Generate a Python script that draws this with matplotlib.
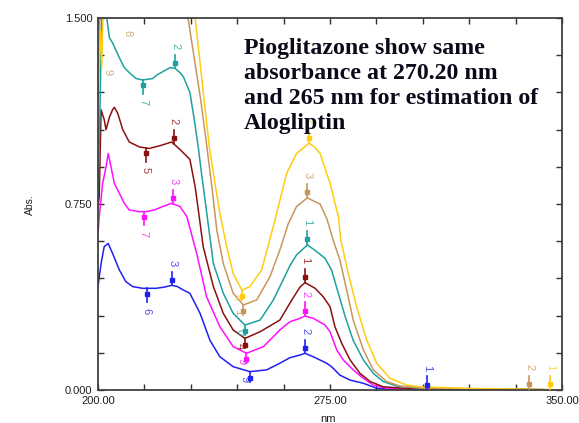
import numpy as np
import matplotlib
matplotlib.use("Agg")
import matplotlib.pyplot as plt

# spectra: wavelength (nm) / absorbance
blue_wl = [200.0, 201.0, 202.0, 203.3, 204.7, 206.9, 209.0, 211.2, 214.4, 218.8, 221.5, 223.8, 225.5,
           227.6, 229.7, 233.0, 236.2, 239.4, 243.7, 249.1, 254.5, 258.8, 262.0, 265.3, 266.9, 269.6,
           273.9, 275.5, 278.2, 281.5, 285.8, 290.1, 295.0, 300.0, 350.0]
blue_abs = [0.417, 0.51, 0.578, 0.591, 0.551, 0.484, 0.437, 0.417, 0.41, 0.41, 0.415, 0.422, 0.418,
            0.403, 0.39, 0.309, 0.20, 0.134, 0.094, 0.074, 0.081, 0.108, 0.13, 0.141, 0.148, 0.134,
            0.108, 0.094, 0.06, 0.04, 0.027, 0.007, 0.003, 0.0, 0.0]

magenta_wl = [200.0, 200.4, 201.5, 202.6, 203.3, 204.2, 205.3, 206.9, 208.5, 210.1, 213.4, 216.0, 218.2,
              221.0, 223.8, 226.5, 228.7, 231.9, 235.1, 239.4, 243.7, 248.0, 253.5, 258.8, 262.0, 265.3,
              266.9, 269.6, 273.4, 275.0, 277.2, 279.3, 282.5, 285.8, 289.0, 293.3, 300.0, 330.0, 350.0]
magenta_abs = [0.63, 0.699, 0.833, 0.90, 0.954, 0.90, 0.833, 0.793, 0.753, 0.726, 0.719, 0.72, 0.726,
               0.74, 0.753, 0.74, 0.70, 0.551, 0.376, 0.255, 0.175, 0.148, 0.175, 0.242, 0.275, 0.289,
               0.298, 0.289, 0.262, 0.235, 0.161, 0.121, 0.081, 0.047, 0.02, 0.007, 0.004, 0.002, 0.0]

maroon_wl = [200.0, 200.4, 201.0, 202.0, 202.6, 203.7, 204.7, 205.3, 206.4, 208.0, 210.1, 213.4, 216.6,
             220.0, 223.8, 226.5, 229.7, 231.4, 232.5, 234.0, 237.3, 240.5, 243.7, 247.5, 252.4, 258.8,
             262.5, 265.3, 266.9, 270.2, 272.8, 275.0, 276.6, 278.8, 281.5, 284.7, 288.0, 292.2, 300.0,
             335.0, 350.0]
maroon_abs = [0.74, 0.78, 1.13, 1.09, 1.05, 1.10, 1.13, 1.14, 1.115, 1.05, 1.00, 0.98, 0.974,
              0.985, 1.00, 0.97, 0.93, 0.82, 0.72, 0.578, 0.417, 0.309, 0.242, 0.208, 0.235, 0.282,
              0.36, 0.415, 0.433, 0.41, 0.376, 0.336, 0.255, 0.188, 0.121, 0.067, 0.034, 0.013, 0.006,
              0.003, 0.0]

teal_wl = [200.0, 200.6, 201.3, 202.6, 203.7, 204.7, 205.8, 206.9, 208.5, 210.1, 212.3, 214.4, 217.7,
           219.0, 223.3, 224.9, 226.5, 227.6, 229.7, 231.0, 232.4, 233.5, 234.6, 237.3, 240.5, 243.7,
           247.5, 252.4, 256.7, 258.8, 262.0, 264.2, 267.7, 269.6, 271.2, 273.4, 275.5, 277.7, 279.9,
           282.5, 285.8, 289.0, 292.2, 296.5, 305.0, 335.0, 350.0]
teal_abs = [0.78, 1.1, 1.6, 1.52, 1.42, 1.40, 1.37, 1.34, 1.30, 1.28, 1.256, 1.25, 1.256,
            1.27, 1.30, 1.297, 1.28, 1.263, 1.20, 1.10, 0.98, 0.87, 0.766, 0.51, 0.39, 0.309,
            0.262, 0.282, 0.363, 0.417, 0.50, 0.545, 0.585, 0.568, 0.553, 0.531, 0.484, 0.39, 0.296,
            0.20, 0.121, 0.067, 0.034, 0.016, 0.006, 0.003, 0.0]

tan_wl = [200.0, 200.7, 228.0, 229.1, 233.2, 235.0, 237.0, 238.4, 240.5, 243.7, 247.0, 251.3, 255.6,
          258.8, 261.5, 264.2, 267.7, 270.0, 271.8, 274.0, 276.0, 278.2, 280.4, 282.5, 285.8, 289.0,
          293.3, 297.6, 305.0, 335.0, 350.0]
tan_abs = [1.15, 1.6, 1.6, 1.5, 1.17, 1.0, 0.80, 0.645, 0.51, 0.39, 0.343, 0.363, 0.457,
           0.565, 0.67, 0.74, 0.775, 0.76, 0.75, 0.69, 0.605, 0.524, 0.403, 0.282, 0.161, 0.081,
           0.034, 0.016, 0.007, 0.004, 0.0]

gold_wl = [200.0, 200.8, 201.2, 201.8, 230.5, 231.4, 234.3, 236.0, 238.1, 239.4, 241.6, 243.7, 246.5,
           249.1, 252.9, 257.2, 261.0, 264.2, 268.2, 270.0, 271.8, 273.9, 275.0, 277.7, 278.5, 280.9,
           283.6, 286.9, 290.1, 294.4, 299.8, 304.1, 320.0, 335.0, 350.0]
gold_abs = [1.25, 1.45, 1.3, 1.6, 1.6, 1.5, 1.17, 0.98, 0.81, 0.712, 0.578, 0.47, 0.403,
            0.417, 0.484, 0.685, 0.874, 0.954, 0.995, 0.98, 0.954, 0.874, 0.835, 0.699, 0.605, 0.47,
            0.336, 0.2, 0.108, 0.047, 0.02, 0.013, 0.006, 0.004, 0.0]

names = ["blue", "magenta", "maroon", "teal", "tan", "gold"]
colors = {"blue": "#2020f0", "magenta": "#ff10ff", "maroon": "#8b1010", "teal": "#1fa0a0",
          "tan": "#c8965c", "gold": "#ffcc10"}
spectra = {"blue": (blue_wl, blue_abs), "magenta": (magenta_wl, magenta_abs),
           "maroon": (maroon_wl, maroon_abs), "teal": (teal_wl, teal_abs),
           "tan": (tan_wl, tan_abs), "gold": (gold_wl, gold_abs)}

# peak / valley pick labels: (curve, wavelength, label, +1 label above / -1 below)
picks = [
    ("teal", 224.9, "2", 1), ("teal", 214.6, "7", -1),
    ("maroon", 224.5, "2", 1), ("maroon", 215.5, "5", -1),
    ("magenta", 224.3, "3", 1), ("magenta", 214.8, "7", -1),
    ("blue", 224.0, "3", 1), ("blue", 215.8, "6", -1),
    ("gold", 268.2, "2", 1), ("tan", 267.7, "3", 1), ("teal", 267.7, "1", 1),
    ("maroon", 266.9, "1", 1), ("magenta", 266.9, "2", 1), ("blue", 266.9, "2", 1),
    ("blue", 306.4, "1", 1), ("tan", 339.4, "2", 1), ("gold", 346.1, "1", 1),
]
# valley picks near 248 nm, label sits beside the arrow
valley_picks = [("gold", 246.5, "4"), ("tan", 247.0, "1"), ("teal", 247.5, "0"),
                ("maroon", 247.5, "4"), ("magenta", 248.0, "9"), ("blue", 249.1, "9")]

fig = plt.figure(figsize=(5.79, 4.23), dpi=100)
ax = fig.add_axes([98 / 579, 1 - 390 / 423, 464 / 579, 372 / 423])

for n in names:
    wl, ab = spectra[n]
    ax.plot(wl, ab, color=colors[n], lw=1.1, zorder=2)

lab_kw = dict(alpha=0.8, fontsize=8, rotation=270, ha="center", va="center",
              family="Liberation Sans", zorder=3)

for n, w, lab, d in picks:
    wl, ab = spectra[n]
    y = float(np.interp(w, wl, ab))
    y_end = y + d * 0.055
    ax.plot([w, w], [y, y_end], color=colors[n], lw=1.2, zorder=3)
    ax.plot(w, y + d * 0.022, "s", color=colors[n], ms=3, zorder=3)
    ax.text(w, y_end + d * 0.035, lab, color=colors[n], **lab_kw)

for n, w, lab in valley_picks:
    wl, ab = spectra[n]
    y = float(np.interp(w, wl, ab))
    ax.plot([w, w], [y, y - 0.04], color=colors[n], lw=1.2, zorder=3)
    ax.plot(w, y - 0.025, "s", color=colors[n], ms=3, zorder=3)
    ax.text(w - 1.6, y - 0.03, lab, color=colors[n], **lab_kw)

# small labels at the far left
ax.text(209.5, 1.44, "8", color=colors["tan"], **lab_kw)
ax.text(203.2, 1.28, "9", color=colors["tan"], **lab_kw)

ax.set_xlim(200, 350)
ax.set_ylim(0, 1.5)
ax.set_xticks(np.arange(200, 351, 15), minor=True)
ax.set_xticks([200, 275, 350])
ax.set_xticklabels(["200.00", "275.00", "350.00"])
ax.set_yticks(np.arange(0, 1.51, 0.15), minor=True)
ax.set_yticks([0, 0.75, 1.5])
ax.set_yticklabels(["0.000", "0.750", "1.500"])
ax.tick_params(which="both", direction="in", top=True, right=True, length=4, width=1,
               color="#303030", labelsize=8, pad=4)
for lbl in ax.get_xticklabels() + ax.get_yticklabels():
    lbl.set_family("Liberation Sans")
    lbl.set_color("#202020")
for s in ax.spines.values():
    s.set_color("#404040")
    s.set_linewidth(1.3)

fig.text(30 / 579, 1 - 205 / 423, "Abs.", rotation=90, fontsize=7.5, ha="center",
         va="center", family="Liberation Sans", color="#202020")
fig.text(328 / 579, 1 - 414 / 423, "nm", fontsize=8, ha="center", va="top",
         family="Liberation Sans", color="#202020")

fig.text(244 / 579, 1 - 38 / 423,
         "Pioglitazone show same\nabsorbance at 270.20 nm\nand 265 nm for estimation of\nAlogliptin",
         fontsize=17.2, fontweight="bold", family="Liberation Serif", color="#0a0a1a",
         ha="left", va="top", linespacing=1.26, zorder=5)

fig.savefig("out.png", dpi=100)
